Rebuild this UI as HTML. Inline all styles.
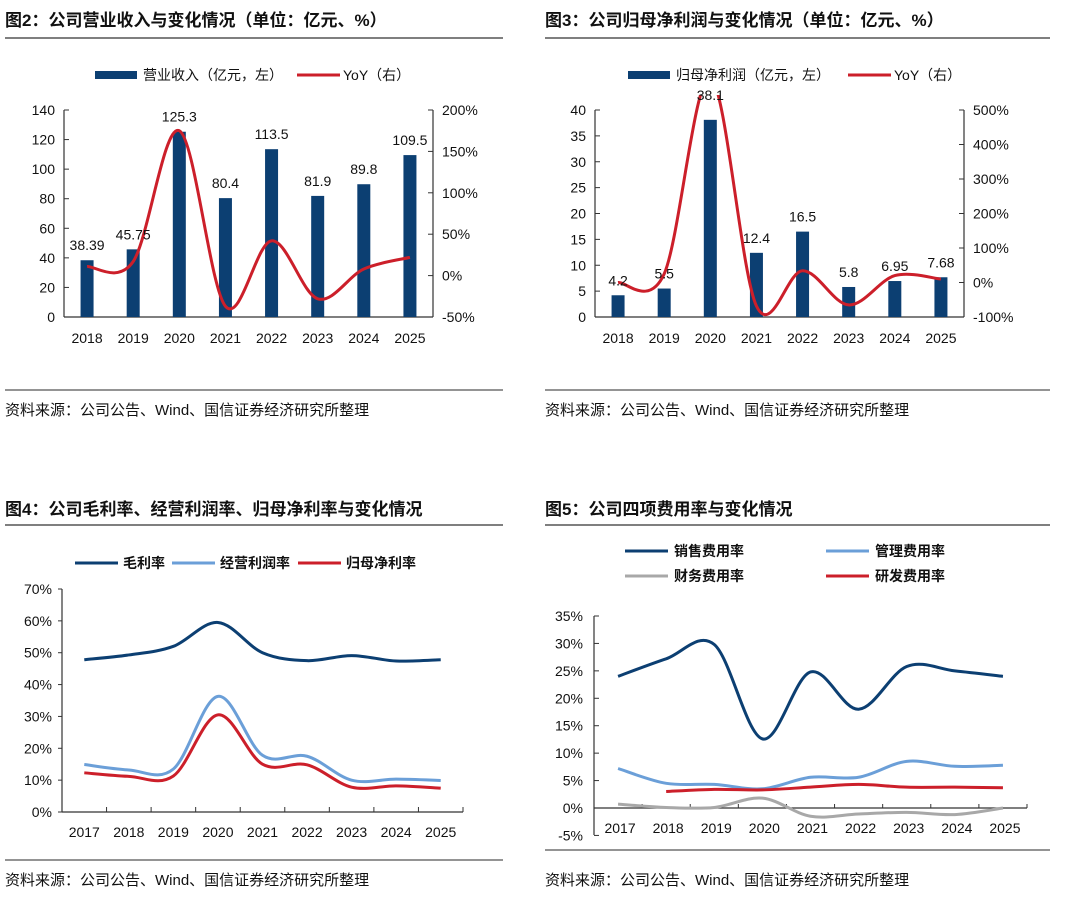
<!DOCTYPE html>
<html><head><meta charset="utf-8"><style>
body{margin:0;background:#fff;width:1080px;height:899px;overflow:hidden;font-family:"Liberation Sans","Noto Sans CJK SC",sans-serif}
svg text{font-family:"Liberation Sans","Noto Sans CJK SC",sans-serif;fill:#111}
</style></head><body>
<svg id="s" width="1080" height="899" xmlns="http://www.w3.org/2000/svg"></svg>
<script>
// ---- data ----
const years8 = ["2018","2019","2020","2021","2022","2023","2024","2025"];
const revenue = [38.39,45.75,125.3,80.4,113.5,81.9,89.8,109.5];
const revenueLabels = ["38.39","45.75","125.3","80.4","113.5","81.9","89.8","109.5"];
const revenueYoY = [11,17,175,-37,42,-28,8,22];
const profit = [4.2,5.5,38.1,12.4,16.5,5.8,6.95,7.68];
const profitLabels = ["4.2","5.5","38.1","12.4","16.5","5.8","6.95","7.68"];
const profitYoY = [0,25,593,-68,34,-65,20,10];
const years9 = ["2017","2018","2019","2020","2021","2022","2023","2024","2025"];
const grossMargin = [47.8,49.3,52,59.5,50,47.5,49.1,47.4,47.8];
const opMargin = [14.9,13.2,13.5,36.3,17.8,17.5,10,10.3,9.9];
const netMargin = [12.3,11.2,11.3,30.5,15,14.8,7.8,8.2,7.5];
const sellRate = [24,27.2,29.8,12.6,24.8,18,25.8,25,24];
const adminRate = [7.2,4.5,4.3,3.5,5.6,5.6,8.5,7.6,7.8];
const finRate = [0.7,0.1,0.1,1.8,-1.5,-1.1,-0.8,-1.2,0];
const rdRate = [null,3,3.4,3.3,3.8,4.3,3.8,3.8,3.7];
const tickL2 = [0,20,40,60,80,100,120,140];
const tickR2 = [-50,0,50,100,150,200];
const tickL3 = [0,5,10,15,20,25,30,35,40];
const tickR3 = [-100,0,100,200,300,400,500];
const tick4 = [0,10,20,30,40,50,60,70];
const tick5 = [-5,0,5,10,15,20,25,30,35];

const NS="http://www.w3.org/2000/svg", S=document.getElementById('s');
const NAVY="#0c3f72", LBLUE="#6b9fd8", RED="#cc1f2a", GREY="#a8a8a8";
function el(tag,attrs,parent){const e=document.createElementNS(NS,tag);for(const k in attrs)e.setAttribute(k,attrs[k]);(parent||S).appendChild(e);return e;}
function txt(x,y,s,size,anchor,weight,name){const t=el('text',{x:x,y:y,'font-size':size,'text-anchor':anchor||'start','font-weight':weight||'normal'});t.textContent=s;


return t;}
function line(x1,y1,x2,y2,c,w,name){const l=el('line',{x1:x1,y1:y1,x2:x2,y2:y2,stroke:c,'stroke-width':w});


return l;}
function smooth(pts){let d="M"+pts[0][0]+","+pts[0][1];for(let i=0;i<pts.length-1;i++){const p0=pts[i-1]||pts[i],p1=pts[i],p2=pts[i+1],p3=pts[i+2]||p2;
const c1x=p1[0]+(p2[0]-p0[0])/6,c1y=p1[1]+(p2[1]-p0[1])/6,c2x=p2[0]-(p3[0]-p1[0])/6,c2y=p2[1]-(p3[1]-p1[1])/6;
d+=" C"+c1x+","+c1y+" "+c2x+","+c2y+" "+p2[0]+","+p2[1];}return d;}
function series(xs,vals,y,c,name,clip){const pts=[];vals.forEach((v,i)=>{if(v!==null)pts.push([xs(i),y(v)]);});
const p=el('path',{d:smooth(pts),fill:'none',stroke:c,'stroke-width':3,'stroke-linejoin':'round'});
if(clip)p.setAttribute('clip-path','url(#'+clip+')');

}
function header(x,title,ty,ry,w){txt(x,ty,title,17,'start','bold','chart-title');line(x,ry,x+w,ry,'#555',1.5,'title-rule');}
function footer(x,ry,ty,w){line(x,ry,x+w,ry,'#555',1.2,'footer-rule');txt(x,ty,"资料来源：公司公告、Wind、国信证券经济研究所整理",15,'start','normal','source-note');}

// ---- chart 2 & 3 (bar + yoy) ----
function barChart(ox,title,cats,vals,labels,yoy,tl,tr,lmax,rmin,rmax,barName,L,R,legendX,clipId,hw){
 header(ox+5,title,26,38,hw);
 const top=110,bot=317;
 const y=v=>bot-(v/lmax)*(bot-top), yr=v=>bot-(v-rmin)/(rmax-rmin)*(bot-top);
 const cw=(R-L)/cats.length, xs=i=>L+cw*(i+0.5);
 const lr=el('rect',{x:ox+legendX,y:71,width:42,height:8,fill:NAVY});
 
 
 txt(ox+legendX+48,80,barName+"（亿元，左）",14,'start','normal','legend-bar-label');
 const lx=ox+legendX+(barName.length>4?220:202);
 line(lx,75,lx+43,75,RED,3,'legend-yoy-swatch');
 txt(lx+46,80,"YoY（右）",14,'start','normal','legend-yoy-label');
 line(L,top,L,bot,'#333',1.2,'y-axis-left');line(R,top,R,bot,'#333',1.2,'y-axis-right');line(L,bot,R,bot,'#333',1.2,'x-axis');
 tl.forEach(v=>{line(L,y(v),L+5,y(v),'#333',1,'y-tick');txt(L-9,y(v)+5,String(v),14,'end','normal','y-tick-label');});
 tr.forEach(v=>{line(R-5,yr(v),R,yr(v),'#333',1,'y2-tick');txt(R+9,yr(v)+5,v+"%",14,'start','normal','y2-tick-label');});
 cats.forEach((c,i)=>{txt(xs(i),343,c,14,'middle','normal','x-tick-label');
  const r=el('rect',{x:xs(i)-6.5,y:y(vals[i]),width:13,height:bot-y(vals[i]),fill:NAVY});
  
  });
 const cp=el('clipPath',{id:clipId});el('rect',{x:ox,y:95,width:540,height:260},cp);
 series(xs,yoy,yr,RED,'yoy-line',clipId);
 cats.forEach((c,i)=>{txt(xs(i),y(vals[i])-10-(i==2&&ox>0?10:0),labels[i],14,'middle','normal','bar-value-label');});
}
barChart(0,"图2：公司营业收入与变化情况（单位：亿元、%）",years8,revenue,revenueLabels,revenueYoY,tickL2,tickR2,140,-50,200,"营业收入",64,433,95,'c2',498);
barChart(540,"图3：公司归母净利润与变化情况（单位：亿元、%）",years8,profit,profitLabels,profitYoY,tickL3,tickR3,40,-100,500,"归母净利润",595,964,88,'c3',505);
footer(5,390,415,498);footer(545,390,415,505);

// ---- chart 4 ----
(function(){
 header(5,"图4：公司毛利率、经营利润率、归母净利率与变化情况",515,525,498);
 const L=62,R=463,top=589,bot=812,cw=(R-L)/9,xs=i=>L+cw*(i+0.5),y=v=>bot-v/70*(bot-top);
 [[75,"毛利率",NAVY],[172,"经营利润率",LBLUE],[298,"归母净利率",RED]].forEach(a=>{line(a[0],563,a[0]+43,563,a[2],3,'legend-swatch');txt(a[0]+48,568,a[1],14,'start','bold','legend-label');});
 line(L,top,L,bot,'#333',1.2,'y-axis');line(L,bot,R,bot,'#333',1.2,'x-axis');
 tick4.forEach(v=>{line(L-4,y(v),L,y(v),'#333',1,'y-tick');txt(L-10,y(v)+5,v+"%",14,'end','normal','y-tick-label');});
 for(let i=1;i<=9;i++)line(L+cw*i,bot-5,L+cw*i,bot,'#333',1,'x-tick');
 years9.forEach((c,i)=>txt(xs(i),837,c,14,'middle','normal','x-tick-label'));
 series(xs,grossMargin,y,NAVY,'gross-margin-line');
 series(xs,opMargin,y,LBLUE,'operating-margin-line');
 series(xs,netMargin,y,RED,'net-margin-line');
 footer(5,860,885,498);
})();

// ---- chart 5 ----
(function(){
 header(545,"图5：公司四项费用率与变化情况",515,525,505);
 const L=594,R=1027,top=616,z=808,bot=835,cw=(R-L)/9,xs=i=>L+cw*(i+0.5),y=v=>z-v/35*(z-top);
 [[625,551,"销售费用率",NAVY],[826,551,"管理费用率",LBLUE],[625,576,"财务费用率",GREY],[826,576,"研发费用率",RED]].forEach(a=>{line(a[0],a[1],a[0]+43,a[1],a[3],3,'legend-swatch');txt(a[0]+49,a[1]+5,a[2],14,'start','bold','legend-label');});
 line(L,top,L,bot,'#333',1.2,'y-axis');line(L,z,R,z,'#333',1.2,'x-axis');
 tick5.forEach(v=>{line(L,y(v),L+5,y(v),'#333',1,'y-tick');txt(L-11,y(v)+5,v+"%",14,'end','normal','y-tick-label');});
 for(let i=1;i<=9;i++)line(L+cw*i,z-4,L+cw*i,z,'#333',1,'x-tick');
 years9.forEach((c,i)=>txt(xs(i)+2,833,c,14,'middle','normal','x-tick-label'));
 series(xs,sellRate,y,NAVY,'selling-rate-line');
 series(xs,adminRate,y,LBLUE,'admin-rate-line');
 series(xs,finRate,y,GREY,'finance-rate-line');
 series(xs,rdRate,y,RED,'rd-rate-line');
 footer(545,850,885,505);
})();
</script>
</body></html>
